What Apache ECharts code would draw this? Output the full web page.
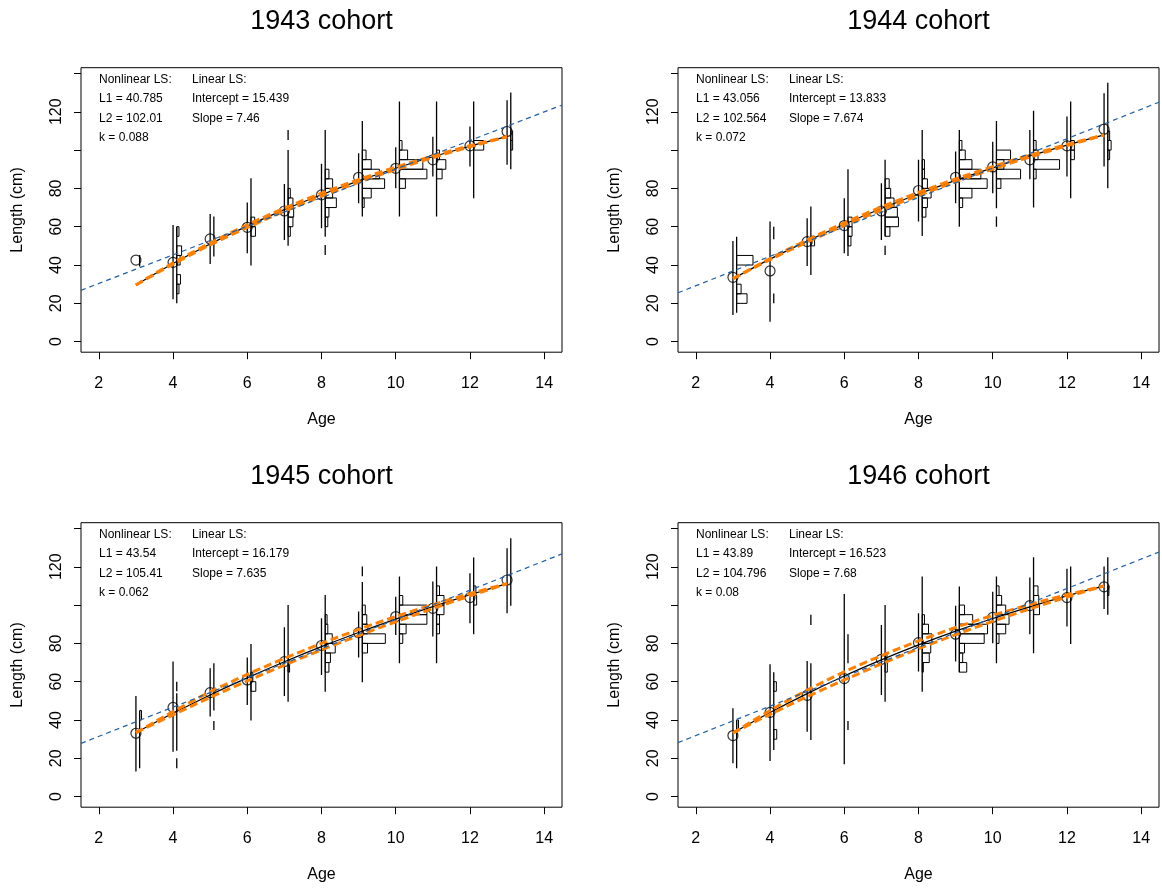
<!DOCTYPE html>
<html>
<head>
<meta charset="utf-8">
<title>Length at age by cohort</title>
<script src="https://cdn.jsdelivr.net/npm/echarts@6.0.0/dist/echarts.min.js"></script>
<style>
  html, body { margin: 0; padding: 0; background: #fff; }
  #main { width: 1162px; height: 891px; }
</style>
</head>
<body>
<div id="main"></div>
<script>
// ---- data ----
const ages = [3, 4, 5, 6, 7, 8, 9, 10, 11, 12, 13];
const cohortNames = ['1943 cohort', '1944 cohort', '1945 cohort', '1946 cohort'];
const xTicks = [2, 4, 6, 8, 10, 12, 14];
const yTicks = [0, 20, 40, 60, 80, 100, 120, 140];
const yTickLabels = [0, 20, 40, 60, 80, 120];

const nlsL1 = ['40.785', '43.056', '43.54', '43.89'];
const nlsL2 = ['102.01', '102.564', '105.41', '104.796'];
const nlsK = ['0.088', '0.072', '0.062', '0.08'];
const lmIntercept = ['15.439', '13.833', '16.179', '16.523'];
const lmSlope = ['7.46', '7.674', '7.635', '7.68'];

// linear LS line, value at the left and right edge of the plot
const lmEnds1943 = [[1.52, 26.8], [14.48, 123.5]];
const lmEnds1944 = [[1.52, 25.5], [14.48, 125.0]];
const lmEnds1945 = [[1.52, 27.8], [14.48, 126.7]];
const lmEnds1946 = [[1.52, 28.2], [14.48, 127.7]];

// mean length at age (circles)
const means1943 = [42.6, 41.4, 53.6, 59.7, 68.2, 76.6, 85.8, 90.5, 94.9, 102.2, 109.7];
const means1944 = [33.6, 36.9, 52.2, 60.6, 68.2, 78.9, 85.8, 91.2, 94.9, 102.2, 110.9];
const means1945 = [33.1, 46.6, 54.3, 60.9, 70.5, 78.9, 85.6, 94.0, 98.3, 103.9, 113.1];
const means1946 = [31.9, 44.0, 52.9, 61.6, 71.7, 80.4, 84.8, 93.6, 99.7, 103.9, 109.5];

// nonlinear fit (black) and its band (orange)
const fit1943 = [29.6, 40.8, 51.0, 60.3, 68.9, 76.7, 83.9, 90.5, 96.5, 102.0, 107.0];
const upper1943 = [29.6, 41.1, 51.5, 61.0, 69.7, 77.5, 84.6, 91.1, 96.9, 102.3, 107.0];
const lower1943 = [29.6, 40.5, 50.5, 59.6, 68.1, 75.9, 83.2, 89.9, 96.1, 101.7, 107.0];
const fit1944 = [32.9, 43.1, 52.5, 61.3, 69.5, 77.1, 84.2, 90.7, 96.9, 102.6, 107.9];
const upper1944 = [32.9, 43.4, 53.1, 62.0, 70.3, 77.9, 84.9, 91.4, 97.4, 102.9, 107.9];
const lower1944 = [32.9, 42.8, 52.0, 60.6, 68.7, 76.3, 83.4, 90.1, 96.4, 102.3, 107.9];
const fit1945 = [33.4, 43.5, 53.1, 62.0, 70.4, 78.3, 85.7, 92.7, 99.2, 105.4, 111.2];
const upper1945 = [33.4, 44.4, 54.7, 63.8, 72.2, 80.0, 87.3, 94.0, 100.2, 106.0, 111.2];
const lower1945 = [33.4, 42.7, 51.8, 60.4, 68.7, 76.6, 84.1, 91.3, 98.2, 104.8, 111.2];
const fit1946 = [33.2, 43.9, 53.8, 63.0, 71.4, 79.2, 86.4, 93.0, 99.1, 104.8, 110.0];
const upper1946 = [33.2, 45.0, 55.6, 65.2, 73.6, 81.3, 88.3, 94.6, 100.3, 105.4, 110.0];
const lower1946 = [33.2, 43.0, 52.2, 60.9, 69.3, 77.2, 84.6, 91.5, 98.0, 104.2, 110.0];

// vertical range lines [x, ymin, ymax]
const segs1943 = [
  [3.1, 39.2, 45.3],
  [4, 22.1, 60.9], [4.1, 20, 60],
  [5, 40.6, 66.7], [5.1, 44.4, 65.3],
  [6, 46.1, 72.6], [6.1, 39.7, 85.3],
  [7, 53.1, 82.3], [7.1, 50, 100], [7.1, 105.3, 110.5],
  [8, 59.2, 92.8], [8.1, 54.8, 110.5], [8.1, 45.3, 50.5],
  [9, 72.2, 98.3], [9.1, 65.3, 115.2],
  [10, 80.1, 101.5], [10.1, 65.3, 125.3],
  [11, 86.2, 107], [11.1, 65.3, 125.3],
  [12, 91.4, 112.3], [12.1, 74.8, 125.3],
  [13, 92.3, 126], [13.1, 90, 130]
];
const segs1944 = [
  [3, 13.9, 52.6], [3.1, 15.1, 54.8],
  [4, 10.4, 62.7], [4.1, 53.5, 60], [4.1, 20, 25.2],
  [5, 39.5, 64.4], [5.1, 34.8, 70.5],
  [6, 46.1, 74.8], [6.1, 44.7, 90],
  [7, 53.1, 82.7], [7.1, 55, 94.9], [7.1, 45.3, 50],
  [8, 62.7, 94.9], [8.1, 55.2, 110.5],
  [9, 72.2, 99.2], [9.1, 60, 110.5],
  [10, 77.5, 104.4], [10.1, 69.6, 115.2], [10.1, 60, 65.3],
  [11, 84.8, 110.5], [11.1, 70, 120.5],
  [12, 86.2, 117.5], [12.1, 74.8, 125.3],
  [13, 91.4, 129.7], [13.1, 80.1, 135.2]
];
const segs1945 = [
  [3, 13.1, 52.6], [3.1, 14.8, 44.7],
  [4, 23.5, 70.5], [4.1, 55, 60], [4.1, 24, 54], [4.1, 14.8, 20],
  [5, 41.8, 67], [5.1, 45, 69.6], [5.1, 34.8, 39.5],
  [6, 47.9, 72.6], [6.1, 39.7, 79.7],
  [7, 52.6, 88.4], [7.1, 49.6, 100.1],
  [8, 63.5, 93.1], [8.1, 54.8, 105.3],
  [9, 72.6, 96.6], [9.1, 59.7, 112], [9.1, 115, 120.1],
  [10, 84.4, 104.4], [10.1, 69.6, 114.9],
  [11, 83.6, 112.3], [11.1, 69.6, 120.1],
  [12, 90.5, 116.6], [12.1, 84.8, 124.8],
  [13, 95.7, 129.7], [13.1, 99.7, 134.9]
];
const segs1946 = [
  [3, 17.4, 46.1], [3.1, 14.8, 39.5],
  [4, 18.6, 69.1], [4.1, 24.4, 64.9],
  [5, 33.9, 70.8], [5.1, 29.6, 69.6], [5.1, 89.6, 94.9],
  [6, 16.9, 105.8], [6.1, 69.6, 84.8], [6.1, 34.8, 39.5],
  [7, 53.1, 89.6], [7.1, 49.6, 100.1],
  [8, 65.3, 95.7], [8.1, 54.8, 114.9],
  [9, 70.5, 99.6], [9.1, 64.9, 109.7],
  [10, 80.1, 107], [10.1, 69.6, 114.9],
  [11, 84.8, 114.4], [11.1, 74.8, 125],
  [12, 88.8, 118.9], [12.1, 79.7, 120.1],
  [13, 98, 120.1], [13.1, 94.9, 125]
];

// sideways histogram bars [baseline x, bin low, bin high, bar width in age units]
const hist1943 = [
  [4.1, 55, 60, 0.06], [4.1, 45, 50, 0.13], [4.1, 40, 45, 0.09], [4.1, 30, 35, 0.1], [4.1, 25, 30, 0.06],
  [6.1, 60, 65, 0.1], [6.1, 55, 60, 0.12],
  [7.1, 75, 80, 0.06], [7.1, 70, 75, 0.13], [7.1, 65, 70, 0.15], [7.1, 60, 65, 0.13], [7.1, 55, 60, 0.06],
  [8.1, 85, 90, 0.1], [8.1, 80, 85, 0.2], [8.1, 75, 80, 0.2], [8.1, 70, 75, 0.3], [8.1, 65, 70, 0.1], [8.1, 60, 65, 0.07],
  [9.1, 95, 100, 0.1], [9.1, 90, 95, 0.24], [9.1, 85, 90, 0.46], [9.1, 80, 85, 0.6], [9.1, 75, 80, 0.24], [9.1, 70, 75, 0.05],
  [10.1, 100, 105, 0.07], [10.1, 95, 100, 0.22], [10.1, 90, 95, 0.63], [10.1, 85, 90, 0.74], [10.1, 80, 85, 0.16],
  [11.1, 95, 100, 0.08], [11.1, 90, 95, 0.25], [11.1, 85, 90, 0.15],
  [12.1, 100, 105, 0.27],
  [13.1, 105, 110, 0.05], [13.1, 100, 105, 0.05]
];
const hist1944 = [
  [3.1, 40, 45, 0.44], [3.1, 25, 30, 0.12], [3.1, 20, 25, 0.28],
  [5.1, 50, 55, 0.1],
  [6.1, 60, 65, 0.11], [6.1, 55, 60, 0.11], [6.1, 50, 55, 0.08],
  [7.1, 80, 85, 0.11], [7.1, 75, 80, 0.15], [7.1, 70, 75, 0.24], [7.1, 65, 70, 0.33], [7.1, 60, 65, 0.36], [7.1, 55, 60, 0.13],
  [8.1, 90, 95, 0.06], [8.1, 85, 90, 0.06], [8.1, 80, 85, 0.14], [8.1, 75, 80, 0.24], [8.1, 70, 75, 0.14], [8.1, 65, 70, 0.1],
  [9.1, 100, 105, 0.07], [9.1, 95, 100, 0.16], [9.1, 90, 95, 0.34], [9.1, 85, 90, 0.58], [9.1, 80, 85, 0.75], [9.1, 75, 80, 0.34], [9.1, 70, 75, 0.09],
  [10.1, 95, 100, 0.38], [10.1, 90, 95, 0.2], [10.1, 85, 90, 0.65], [10.1, 80, 85, 0.12],
  [11.1, 100, 105, 0.07], [11.1, 95, 100, 0.12], [11.1, 90, 95, 0.7], [11.1, 85, 90, 0.07],
  [12.1, 100, 105, 0.1], [12.1, 95, 100, 0.1],
  [13.1, 105, 110, 0.05], [13.1, 100, 105, 0.09], [13.1, 95, 100, 0.05]
];
const hist1945 = [
  [3.1, 40, 45, 0.05],
  [6.1, 60, 65, 0.05], [6.1, 55, 60, 0.13],
  [7.1, 65, 70, 0.04],
  [8.1, 90, 95, 0.05], [8.1, 85, 90, 0.07], [8.1, 80, 85, 0.19], [8.1, 75, 80, 0.27], [8.1, 70, 75, 0.14], [8.1, 65, 70, 0.1],
  [9.1, 95, 100, 0.08], [9.1, 90, 95, 0.12], [9.1, 85, 90, 0.15], [9.1, 80, 85, 0.62], [9.1, 75, 80, 0.14],
  [10.1, 100, 105, 0.09], [10.1, 95, 100, 0.74], [10.1, 90, 95, 0.74], [10.1, 85, 90, 0.18], [10.1, 80, 85, 0.09],
  [11.1, 105, 110, 0.08], [11.1, 100, 105, 0.2], [11.1, 95, 100, 0.2], [11.1, 90, 95, 0.08], [11.1, 85, 90, 0.08],
  [12.1, 105, 110, 0.06], [12.1, 100, 105, 0.08]
];
const hist1946 = [
  [3.1, 35, 40, 0.05],
  [4.1, 55, 60, 0.07], [4.1, 30, 35, 0.08],
  [7.1, 70, 75, 0.05], [7.1, 65, 70, 0.06],
  [8.1, 90, 95, 0.06], [8.1, 85, 90, 0.17], [8.1, 80, 85, 0.26], [8.1, 75, 80, 0.23], [8.1, 70, 75, 0.19], [8.1, 65, 70, 0.03],
  [9.1, 95, 100, 0.14], [9.1, 90, 95, 0.36], [9.1, 85, 90, 0.76], [9.1, 80, 85, 0.67], [9.1, 75, 80, 0.14], [9.1, 70, 75, 0.09], [9.1, 65, 70, 0.2],
  [10.1, 105, 110, 0.07], [10.1, 100, 105, 0.14], [10.1, 95, 100, 0.25], [10.1, 90, 95, 0.34], [10.1, 85, 90, 0.25], [10.1, 80, 85, 0.07],
  [11.1, 105, 110, 0.12], [11.1, 100, 105, 0.14], [11.1, 95, 100, 0.16],
  [13.1, 105, 110, 0.03]
];

// ---- layout ----
const FONT = '"Liberation Sans", Arial, sans-serif';
const plotW = 481, plotH = 284.5;
const boxes = [
  {left: 81, top: 67.7}, {left: 678, top: 67.7},
  {left: 81, top: 522.7}, {left: 678, top: 522.7}
];
const panels = [
  {ends: lmEnds1943, means: means1943, fit: fit1943, up: upper1943, lo: lower1943, segs: segs1943, hist: hist1943},
  {ends: lmEnds1944, means: means1944, fit: fit1944, up: upper1944, lo: lower1944, segs: segs1944, hist: hist1944},
  {ends: lmEnds1945, means: means1945, fit: fit1945, up: upper1945, lo: lower1945, segs: segs1945, hist: hist1945},
  {ends: lmEnds1946, means: means1946, fit: fit1946, up: upper1946, lo: lower1946, segs: segs1946, hist: hist1946}
];

function pairs(ys) {
  return ages.map((a, i) => [a, ys[i]]);
}

function segItem(params, api) {
  const a = api.coord([api.value(0), api.value(1)]);
  const b = api.coord([api.value(0), api.value(2)]);
  return {
    type: 'line',
    shape: {x1: a[0], y1: a[1], x2: b[0], y2: b[1]},
    style: {stroke: '#000', lineWidth: 1.3}
  };
}

function histItem(params, api) {
  const p0 = api.coord([api.value(0), api.value(2)]);
  const p1 = api.coord([api.value(0) + api.value(3), api.value(1)]);
  return {
    type: 'rect',
    shape: {x: p0[0], y: p0[1], width: p1[0] - p0[0], height: p1[1] - p0[1]},
    style: {fill: 'none', stroke: '#000', lineWidth: 1}
  };
}

const grid = [], xAxis = [], yAxis = [], series = [], graphic = [];

boxes.forEach((b, i) => {
  grid.push({
    left: b.left, top: b.top, width: plotW, height: plotH,
    show: true, borderColor: '#000', borderWidth: 1, backgroundColor: 'transparent'
  });
  xAxis.push({
    gridIndex: i, type: 'value', min: 1.52, max: 14.48,
    axisLine: {show: false, onZero: false}, splitLine: {show: false},
    axisTick: {show: true, customValues: xTicks, length: 7, lineStyle: {color: '#000'}},
    axisLabel: {customValues: xTicks, fontSize: 16, color: '#000', margin: 23, fontFamily: FONT},
    name: 'Age', nameLocation: 'middle', nameGap: 59,
    nameTextStyle: {fontSize: 16, color: '#000', fontFamily: FONT}
  });
  yAxis.push({
    gridIndex: i, type: 'value', min: -5.5, max: 143,
    axisLine: {show: false, onZero: false}, splitLine: {show: false},
    axisTick: {show: true, customValues: yTicks, length: 7, lineStyle: {color: '#000'}},
    axisLabel: {customValues: yTickLabels, fontSize: 16, color: '#000', margin: 16, rotate: 90, fontFamily: FONT},
    name: 'Length (cm)', nameLocation: 'middle', nameGap: 55,
    nameTextStyle: {fontSize: 16, color: '#000', fontFamily: FONT}
  });

  const p = panels[i];
  series.push({
    type: 'custom', xAxisIndex: i, yAxisIndex: i, renderItem: segItem,
    data: p.segs, encode: {x: 0, y: [1, 2]}, silent: true, z: 2, clip: true
  });
  series.push({
    type: 'custom', xAxisIndex: i, yAxisIndex: i, renderItem: histItem,
    data: p.hist, encode: {x: 0, y: [1, 2]}, silent: true, z: 2, clip: true
  });
  series.push({
    type: 'scatter', xAxisIndex: i, yAxisIndex: i, data: pairs(p.means),
    symbol: 'circle', symbolSize: 10, silent: true, z: 3,
    itemStyle: {color: 'transparent', borderColor: '#000', borderWidth: 1.2}
  });
  series.push({
    type: 'line', xAxisIndex: i, yAxisIndex: i, data: pairs(p.fit),
    smooth: 0.3, showSymbol: false, silent: true, z: 4,
    lineStyle: {color: '#000', width: 1.2}
  });
  [p.up, p.lo].forEach(band => {
    series.push({
      type: 'line', xAxisIndex: i, yAxisIndex: i, data: pairs(band),
      smooth: 0.3, showSymbol: false, silent: true, z: 5,
      lineStyle: {color: '#FF8000', width: 3, type: [8, 4]}
    });
  });
  series.push({
    type: 'line', xAxisIndex: i, yAxisIndex: i, data: p.ends,
    showSymbol: false, silent: true, z: 6,
    lineStyle: {color: '#1F5FA6', width: 1.2, type: [5, 4]}
  });

  // title and fit summaries
  graphic.push({
    type: 'text', silent: true,
    style: {
      text: cohortNames[i], x: b.left + plotW / 2, y: b.top - 46,
      font: '27px ' + FONT, fill: '#000', textAlign: 'center', textVerticalAlign: 'middle'
    }
  });
  const col1 = ['Nonlinear LS:', 'L1 = ' + nlsL1[i], 'L2 = ' + nlsL2[i], 'k = ' + nlsK[i]];
  const col2 = ['Linear LS:', 'Intercept = ' + lmIntercept[i], 'Slope = ' + lmSlope[i]];
  const rows = [11.8, 31.3, 50.7, 70];
  col1.forEach((t, r) => graphic.push({
    type: 'text', silent: true,
    style: {text: t, x: b.left + 18, y: b.top + rows[r], font: '12px ' + FONT, fill: '#000', textVerticalAlign: 'middle'}
  }));
  col2.forEach((t, r) => graphic.push({
    type: 'text', silent: true,
    style: {text: t, x: b.left + 111, y: b.top + rows[r], font: '12px ' + FONT, fill: '#000', textVerticalAlign: 'middle'}
  }));
});

const chart = echarts.init(document.getElementById('main'), null, {renderer: 'canvas'});
chart.setOption({
  animation: false,
  backgroundColor: '#fff',
  textStyle: {fontFamily: FONT},
  grid: grid,
  xAxis: xAxis,
  yAxis: yAxis,
  series: series,
  graphic: graphic
});
</script>
</body>
</html>
